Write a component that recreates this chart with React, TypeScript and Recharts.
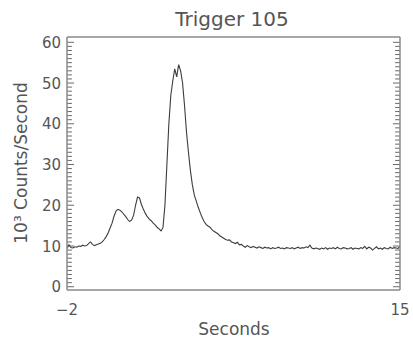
import React from 'react';
import { LineChart, Line, XAxis, YAxis, ReferenceLine } from 'recharts';

const W = 413;
const H = 338;

const title = 'Trigger 105';
const xLabel = 'Seconds';
const yLabel = '10³ Counts/Second';

// time base: -2.0 s to 15.0 s in 0.1 s bins
const tStart = -2.0;
const tStep = 0.1;
// count rate in 10^3 counts / second
const rates = [
  9.4, 10.3, 9.6, 9.5, 9.8, 9.7, 10.0, 9.9, 10.2, 10.0,
  10.1, 10.6, 11.0, 10.4, 10.1, 10.3, 10.5, 10.7, 11.0, 11.6,
  12.3, 13.2, 14.4, 15.6, 17.3, 18.6, 19.0, 18.8, 18.4, 17.8,
  17.2, 16.5, 16.0, 16.4, 17.5, 20.0, 22.0, 21.8, 20.2, 19.0,
  18.0, 17.2, 16.6, 16.2, 15.6, 15.2, 14.6, 14.2, 13.7, 14.5,
  20.0, 30.0, 40.0, 47.0, 50.5, 53.5, 51.5, 54.5, 53.0, 50.0,
  44.5, 38.0, 33.0, 28.5, 25.0, 22.5, 21.0, 19.5, 18.2, 17.0,
  16.0, 15.3, 14.9, 14.6, 14.0, 13.6, 13.3, 13.0, 12.5, 12.2,
  11.9, 11.6, 11.4, 11.5, 11.0, 10.8, 10.6, 10.9, 10.3, 10.4,
  10.0, 9.7, 10.1, 9.8, 9.6, 9.9, 9.7, 9.5, 9.8, 9.6,
  9.4, 9.7, 9.5, 9.6, 9.3, 9.6, 9.4, 9.5, 9.7, 9.4,
  9.5, 9.3, 9.6, 9.5, 9.4, 9.6, 9.3, 9.5, 9.7, 9.4,
  9.6, 9.5, 9.8, 9.6, 10.2, 9.5, 9.3, 9.5, 9.4, 9.2,
  9.5, 9.3, 9.6, 9.2, 9.5, 9.4, 9.6, 9.3, 9.7, 9.4,
  9.3, 9.6, 9.5, 9.3, 9.4, 9.6, 9.2, 9.5, 9.4, 9.3,
  9.6, 9.4, 9.9, 9.3, 9.7, 9.5, 9.0, 9.4, 9.8, 9.3,
  9.5, 9.2, 9.6, 9.4, 9.3, 9.7, 9.4, 9.6, 9.5, 9.4,
  9.9,
];

const xDomain: [number, number] = [-2, 15];
const xTicks = [-2, 15];
const xTickLabels = ['−2', '15'];
const yDomain: [number, number] = [-0.8, 61.3];
const yMajorTicks = [0, 10, 20, 30, 40, 50, 60];
const yMinorTicks = Array.from({ length: 61 }, (_, i) => i).filter((v) => !yMajorTicks.includes(v));
// tick lengths expressed in seconds along the x axis
const minorTickLen = 0.25;
const majorTickLen = 0.36;

const data = rates.map((v, i) => ({ t: Math.round((tStart + i * tStep) * 100) / 100, v }));

const FONT = '"DejaVu Sans", Verdana, sans-serif';
const TEXT = '#555';
const FRAME = '#8a8a8a';
const TICK = '#6a6a6a';
const LINE = '#3c3c3c';

const LeftTick = (props: any) => {
  const { x, y, payload } = props;
  const val = Math.round(payload.value);
  return (
    <text x={x - 6} y={y + 5.5} textAnchor="end" fontSize={15} fill={TEXT} fontFamily={FONT}>
      {val}
    </text>
  );
};

const BottomTick = (props: any) => {
  const { x, y, payload } = props;
  const idx = xTicks.indexOf(payload.value);
  const label = idx >= 0 ? xTickLabels[idx] : String(payload.value);
  return (
    <text x={x} y={y + 25} textAnchor="middle" fontSize={15} fill={TEXT} fontFamily={FONT}>
      {label}
    </text>
  );
};

const tickSegments = [
  ...yMinorTicks.map((v) => ({ v, len: minorTickLen })),
  ...yMajorTicks.map((v) => ({ v, len: majorTickLen })),
];

export default function App() {
  return (
    <div style={{ position: 'absolute', left: 0, top: 0, width: W, height: H, background: '#fff' }}>
      <LineChart
        width={W}
        height={H}
        data={data}
        margin={{ top: 27, right: 3, left: 37, bottom: 18 }}
      >
        <XAxis
          xAxisId="bottom"
          dataKey="t"
          type="number"
          domain={xDomain}
          ticks={xTicks}
          allowDataOverflow
          interval={0}
          height={30}
          tickSize={0}
          tickMargin={0}
          tickLine={false}
          tick={<BottomTick />}
          axisLine={{ stroke: FRAME, strokeWidth: 1.5 }}
        />
        <XAxis
          xAxisId="top"
          orientation="top"
          dataKey="t"
          type="number"
          domain={xDomain}
          allowDataOverflow
          height={10}
          tick={false}
          tickLine={false}
          axisLine={{ stroke: FRAME, strokeWidth: 1.5 }}
        />
        <YAxis
          yAxisId="left"
          type="number"
          domain={yDomain}
          ticks={yMajorTicks}
          allowDataOverflow
          interval={0}
          width={30}
          tickSize={0}
          tickMargin={0}
          tickLine={false}
          tick={<LeftTick />}
          axisLine={{ stroke: FRAME, strokeWidth: 1.5 }}
        />
        <YAxis
          yAxisId="right"
          orientation="right"
          type="number"
          domain={yDomain}
          ticks={yMajorTicks}
          allowDataOverflow
          width={10}
          tick={false}
          tickLine={false}
          axisLine={{ stroke: FRAME, strokeWidth: 1.5 }}
        />
        {tickSegments.map(({ v, len }) => (
          <ReferenceLine
            key={`tl-${v}`}
            xAxisId="bottom"
            yAxisId="left"
            segment={[
              { x: xDomain[0], y: v },
              { x: xDomain[0] + len, y: v },
            ]}
            stroke={TICK}
            strokeWidth={1}
          />
        ))}
        {tickSegments.map(({ v, len }) => (
          <ReferenceLine
            key={`tr-${v}`}
            xAxisId="bottom"
            yAxisId="left"
            segment={[
              { x: xDomain[1] - len, y: v },
              { x: xDomain[1], y: v },
            ]}
            stroke={TICK}
            strokeWidth={1}
          />
        ))}
        <Line
          xAxisId="bottom"
          yAxisId="left"
          dataKey="v"
          type="linear"
          stroke={LINE}
          strokeWidth={1.1}
          dot={false}
          isAnimationActive={false}
        />
      </LineChart>
      <svg
        width={W}
        height={H}
        style={{ position: 'absolute', left: 0, top: 0, pointerEvents: 'none' }}
      >
        <text x={232} y={26} textAnchor="middle" fontSize={20} fill={TEXT} fontFamily={FONT}>
          {title}
        </text>
        <text x={234} y={335} textAnchor="middle" fontSize={17} fill={TEXT} fontFamily={FONT}>
          {xLabel}
        </text>
        <text
          x={27}
          y={163}
          textAnchor="middle"
          fontSize={17}
          fill={TEXT}
          fontFamily={FONT}
          transform="rotate(-90, 27, 163)"
        >
          {yLabel}
        </text>
      </svg>
    </div>
  );
}
